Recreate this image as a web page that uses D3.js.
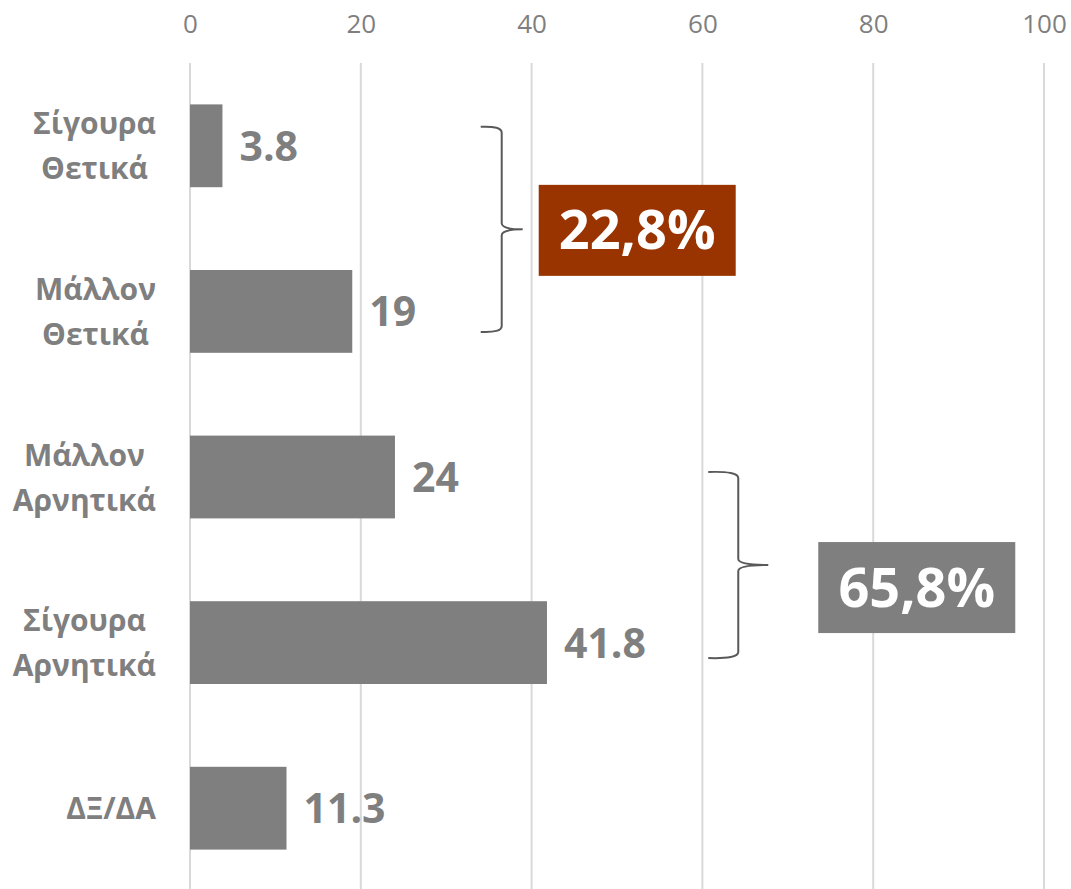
<!DOCTYPE html>
<html>
<head>
<meta charset="utf-8">
<script src="https://cdn.jsdelivr.net/npm/d3@7"></script>
<style>
  body { margin: 0; background: #fff; }
  text { font-family: "Open Sans", sans-serif; }
</style>
</head>
<body>
<div id="chart"></div>
<script>
const width = 1071
const height = 889

// data
const categories = [["Σίγουρα", "Θετικά"], ["Μάλλον", "Θετικά"], ["Μάλλον", "Αρνητικά"], ["Σίγουρα", "Αρνητικά"], ["ΔΞ/ΔΑ"]]
const values = [3.8, 19, 24, 41.8, 11.3]
const ticks = [0, 20, 40, 60, 80, 100]
const groupMembers = [[0, 1], [2, 3]]
const groupLabels = ["22,8%", "65,8%"]
const groupColors = ["#993300", "#7f7f7f"]
const groupBraceAt = [36.5, 64.2]

const gray = "#7f7f7f"

const svg = d3.select("#chart")
  .append("svg")
  .attr("width", width)
  .attr("height", height)

const x = d3.scaleLinear().domain([0, 100]).range([190, 1044])
const y = d3.scaleBand()
  .domain(d3.range(values.length))
  .range([63, 891])
  .paddingInner(0.5)
  .paddingOuter(0.25)

// grid
svg.append("g")
  .selectAll("line")
  .data(ticks)
  .join("line")
    .attr("x1", d => x(d)).attr("x2", d => x(d))
    .attr("y1", 63).attr("y2", height)
    .attr("stroke", "#d9d9d9")
    .attr("stroke-width", 2)

// top axis
const axis = svg.append("g")
  .attr("transform", "translate(0,33)")
  .call(d3.axisTop(x).tickValues(ticks).tickSize(0).tickPadding(0))
axis.select(".domain").remove()
axis.selectAll("text")
  .attr("fill", gray)
  .attr("font-size", "26px")
  .attr("font-family", "Open Sans")

// bars
svg.append("g")
  .selectAll("rect")
  .data(values)
  .join("rect")
    .attr("x", x(0))
    .attr("y", (d, i) => y(i))
    .attr("width", d => x(d) - x(0))
    .attr("height", y.bandwidth())
    .attr("fill", gray)

// value labels
svg.append("g")
  .selectAll("text")
  .data(values)
  .join("text")
    .attr("x", d => x(d) + 17)
    .attr("y", (d, i) => y(i) + y.bandwidth() / 2 + 15)
    .attr("fill", gray)
    .attr("font-size", "41px")
    .attr("font-weight", "bold")
    .text(d => d)

// category labels: block right aligned, lines centered
const labelRight = 156
const lineGap = 45
const catG = svg.append("g")
categories.forEach((lines, i) => {
  const cy = y(i) + y.bandwidth() / 2
  const t = catG.append("text")
    .attr("fill", gray)
    .attr("font-size", "30px")
    .attr("font-weight", "bold")
    .attr("text-anchor", "middle")
  const n = lines.length
  lines.forEach((ln, j) => {
    t.append("tspan")
      .attr("y", cy + (j - (n - 1) / 2) * lineGap + 11)
      .text(ln)
  })
  let maxW = 0
  t.selectAll("tspan").each(function () { maxW = Math.max(maxW, this.getComputedTextLength()) })
  t.selectAll("tspan").attr("x", labelRight - maxW / 2)
})

// group braces and totals
const braceTop = [19, 5]
const braceBot = [20.5, 15.5]
const braceW = [21, 30]
const boxGap = [16, 50]
const boxShift = [-44.5, -23]

groupMembers.forEach((m, k) => {
  const c0 = y(m[0]) + y.bandwidth() / 2
  const c1 = y(m[1]) + y.bandwidth() / 2
  const top = c0 - braceTop[k], bot = c1 + braceBot[k]
  const mid = (top + bot) / 2
  const bx = x(groupBraceAt[k])
  const w = braceW[k]
  const r = 6
  const p = d3.path()
  p.moveTo(bx - w, top)
  p.quadraticCurveTo(bx, top - 1, bx, top + r)
  p.lineTo(bx, mid - r)
  p.quadraticCurveTo(bx, mid, bx + w, mid)
  p.quadraticCurveTo(bx, mid, bx, mid + r)
  p.lineTo(bx, bot - r)
  p.quadraticCurveTo(bx, bot + 1, bx - w, bot)
  svg.append("path")
    .attr("d", p.toString())
    .attr("fill", "none")
    .attr("stroke", "#595959")
    .attr("stroke-width", 2)

  const boxW = 197, boxH = 91
  const boxX = bx + w + boxGap[k]
  const boxY = mid + boxShift[k]
  svg.append("rect")
    .attr("x", boxX).attr("y", boxY)
    .attr("width", boxW).attr("height", boxH)
    .attr("fill", groupColors[k])
  svg.append("text")
    .attr("x", boxX + boxW / 2)
    .attr("y", boxY + boxH / 2 + 19)
    .attr("text-anchor", "middle")
    .attr("fill", "#fff")
    .attr("font-size", "54px")
    .attr("font-weight", "bold")
    .text(groupLabels[k])
})
</script>
</body>
</html>
